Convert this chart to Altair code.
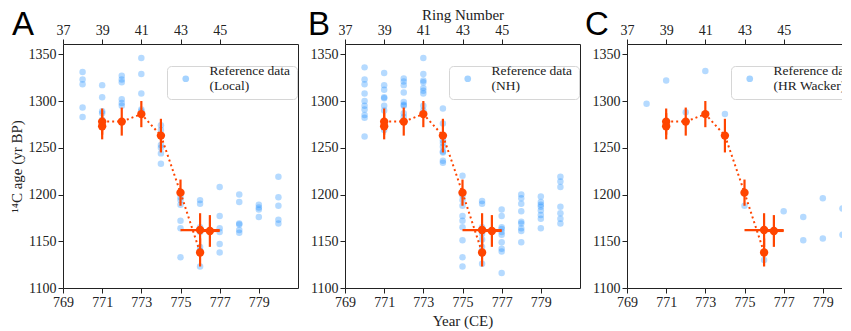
import altair as alt
import pandas as pd

# ---------------- data ----------------
YEARS = [770, 771, 772, 773, 774, 775, 776, 777, 778, 779, 780]

local_ages = [
    [1331, 1323, 1318, 1293, 1283],
    [1317, 1304, 1289, 1287, 1280, 1275],
    [1327, 1323, 1320, 1302, 1298, 1295],
    [1346, 1329, 1308, 1291, 1289],
    [1274, 1269, 1253, 1250, 1244, 1233],
    [1197, 1194, 1189, 1172, 1164, 1133],
    [1194, 1190, 1165, 1160, 1144, 1140, 1123],
    [1208, 1177, 1164, 1160, 1147, 1138],
    [1200, 1192, 1169, 1168, 1162, 1159],
    [1189, 1186, 1184, 1176],
    [1219, 1197, 1188, 1173, 1169],
]

nh_ages = [
    [1336, 1323, 1318, 1308, 1300, 1295, 1291, 1285, 1282, 1262],
    [1330, 1317, 1312, 1304, 1303, 1295, 1290, 1269],
    [1324, 1321, 1317, 1309, 1299, 1296, 1295, 1287, 1283],
    [1346, 1329, 1322, 1320, 1314, 1311, 1308, 1295, 1290],
    [1292, 1276, 1258, 1255, 1251, 1246, 1245, 1236, 1234],
    [1220, 1199, 1194, 1188, 1177, 1172, 1165, 1151, 1133, 1123],
    [1193, 1190, 1165, 1158, 1152, 1144, 1137, 1126],
    [1184, 1177, 1165, 1163, 1160, 1157, 1149, 1142, 1139, 1116],
    [1200, 1196, 1190, 1182, 1171, 1169, 1164, 1161, 1149],
    [1198, 1192, 1189, 1187, 1183, 1178, 1174, 1164],
    [1219, 1214, 1208, 1187, 1180, 1174, 1169],
]

wacker_ages = [
    [1297], [1322], [1288], [1332], [1286], [1188], [1130],
    [1182], [1176, 1151], [1196, 1153], [1185, 1157],
]

# measured samples (red)
red_year = [771, 771, 772, 773, 774, 775, 776, 776, 776.5]
red_age = [1278, 1273, 1278, 1286, 1263, 1202, 1162, 1138, 1161]
red_yerr = [14, 14, 15, 14, 18, 14, 18, 15, 17]
red_xerr = [0, 0, 0, 0, 0, 0, 1, 0, 0.5]
red_on_line = [1, 0, 1, 1, 1, 1, 0, 1, 0]

bottom_ticks = [769, 771, 773, 775, 777, 779]
top_ticks = [769, 771, 773, 775, 777]   # ring numbers 37..45
y_ticks = [1100, 1150, 1200, 1250, 1300, 1350]
RING_OFFSET = 732

# ---------------- tables ----------------
def ref_table(ages_by_year, series):
    rows = [(y, a) for y, ages in zip(YEARS, ages_by_year) for a in ages]
    df = pd.DataFrame(rows, columns=["year", "age"])
    df["series"] = series
    return df

red = pd.DataFrame({"year": red_year, "age": red_age, "yerr": red_yerr,
                    "xerr": red_xerr, "on_line": red_on_line})
red["lo"] = red["age"] - red["yerr"]
red["hi"] = red["age"] + red["yerr"]
red["xlo"] = red["year"] - red["xerr"]
red["xhi"] = red["year"] + red["xerr"]
red_line = red[red["on_line"] == 1]
red_h = red[red["xerr"] > 0]

RED = "#FF4500"
BLUE = "#1E90FF"
SERIF = "Liberation Serif"
SANS = "Liberation Sans"
W, H = 235, 244
XDOM = [769, 781]
YDOM = [1100, 1361]


def panel(letter, letter_x, ages, series_label, ytitle, xtitle, ringtitle):
    xs = alt.Scale(domain=XDOM, nice=False, zero=False)
    ys = alt.Scale(domain=YDOM, nice=False, zero=False)
    common = dict(labelFont=SERIF, labelFontSize=14, labelColor="#222",
                  titleFont=SERIF, titleFontSize=15, titleFontWeight="normal",
                  titleColor="#222", format="d", labelFlush=False)
    bottom_axis = alt.Axis(orient="bottom", values=bottom_ticks,
                           title=xtitle, titlePadding=4, **common)
    top_axis = alt.Axis(orient="top", values=top_ticks,
                        labelExpr=f"datum.value - {RING_OFFSET}",
                        title=ringtitle, titlePadding=1, **common)
    y_axis = alt.Axis(values=y_ticks, title=ytitle, titlePadding=4, **common)

    ref = ref_table(ages, series_label)
    pts = alt.Chart(ref).mark_circle(size=42, opacity=0.33).encode(
        x=alt.X("year:Q", scale=xs, axis=bottom_axis),
        y=alt.Y("age:Q", scale=ys, axis=y_axis),
        color=alt.Color("series:N", scale=alt.Scale(range=[BLUE]),
                        legend=alt.Legend(
                            title=None, orient="none", legendX=104, legendY=22,
                            labelExpr=f"['Reference data', '{series_label}']",
                            labelFont=SERIF, labelFontSize=13.5, labelColor="#222",
                            labelBaseline="line-bottom",
                            labelLimit=300, labelOffset=17,
                            symbolType="circle", symbolSize=45, symbolOpacity=0.4,
                            symbolStrokeWidth=0, symbolOffset=6,
                            fillColor="white", strokeColor="#d6d6d6",
                            cornerRadius=4, padding=6)),
    )
    line = alt.Chart(red_line).mark_line(color=RED, strokeDash=[2, 3],
                                          strokeWidth=2).encode(
        x=alt.X("year:Q", scale=xs, axis=None),
        y=alt.Y("age:Q", scale=ys, axis=None),
    )
    vbar = alt.Chart(red).mark_rule(color=RED, strokeWidth=2.2).encode(
        x=alt.X("year:Q", scale=xs, axis=None),
        y=alt.Y("lo:Q", scale=ys, axis=None),
        y2="hi:Q",
    )
    hbar = alt.Chart(red_h).mark_rule(color=RED, strokeWidth=2.2).encode(
        x=alt.X("xlo:Q", scale=xs, axis=None),
        x2="xhi:Q",
        y=alt.Y("age:Q", scale=ys, axis=None),
    )
    dots = alt.Chart(red).mark_circle(size=70, color=RED, opacity=1).encode(
        x=alt.X("year:Q", scale=xs, axis=top_axis),
        y=alt.Y("age:Q", scale=ys, axis=None),
    )
    lab = alt.Chart(pd.DataFrame({"t": [letter]})).mark_text(
        font=SANS, fontSize=33, align="left", baseline="alphabetic",
        color="black").encode(text="t:N", x=alt.value(letter_x),
                              y=alt.value(-9))
    return alt.layer(pts, line, vbar, hbar, dots, lab).resolve_axis(
        x="independent", y="independent").properties(width=W, height=H)


pA = panel("A", -51, local_ages, "(Local)", "¹⁴C age (yr BP)", None, None)
pB = panel("B", -37, nh_ages, "(NH)", None, "Year (CE)", "Ring Number")
pC = panel("C", -42, wacker_ages, "(HR Wacker)", None, None, None)

chart = alt.hconcat(pA, pB, pC, spacing=47, bounds="flush").resolve_scale(
    color="independent").properties(
    padding={"left": 0, "top": -2, "right": -21, "bottom": 0}).configure(
    font=SERIF, style={"guide-label": {"lineHeight": 15}}).configure_view(
    stroke="#222", strokeWidth=1).configure_axis(
    grid=False, domain=False, labelFont=SERIF, labelFontSize=14,
    labelColor="#222", tickColor="#222", tickSize=5, labelPadding=2,
    titleFont=SERIF, titleFontSize=15, titleFontWeight="normal",
    titleColor="#222")

chart.save("out.html", embed_options={"renderer": "svg", "actions": False})
